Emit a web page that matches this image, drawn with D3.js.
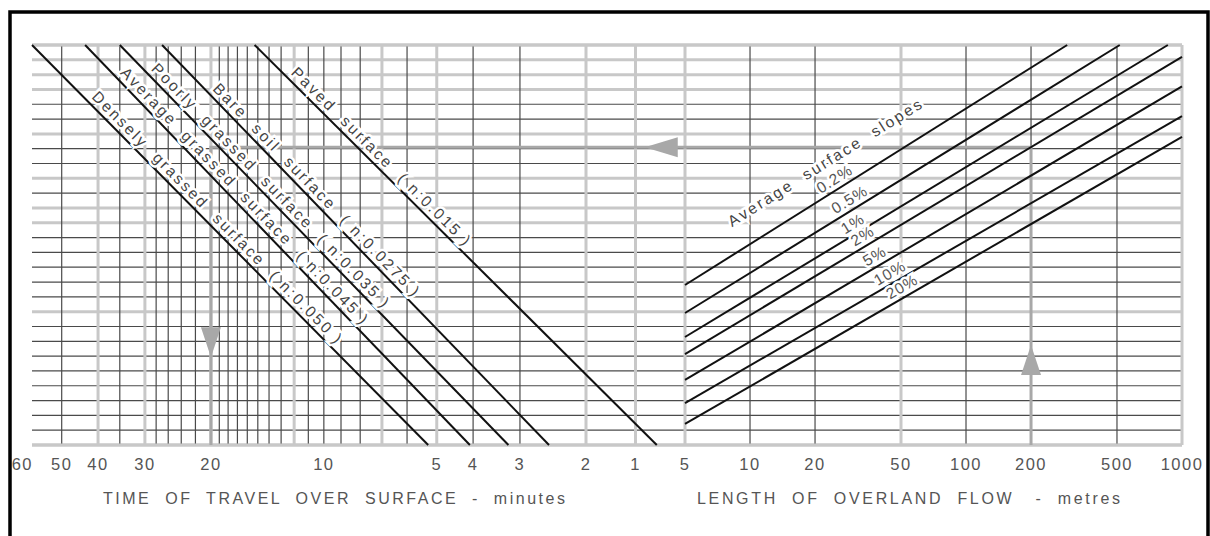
<!DOCTYPE html>
<html>
<head>
<meta charset="utf-8">
<script src="https://cdn.jsdelivr.net/npm/d3@7/dist/d3.min.js"></script>
<style>
  body { margin: 0; background: #fff; }
  svg { display: block; }
  text { font-family: "Liberation Sans", Arial, sans-serif; }
</style>
</head>
<body>
<script>
// time of travel axis (minutes)
const timeTicks = [60, 50, 40, 30, 20, 10, 5, 4, 3, 2, 1]
const timeGrid = [50, 40, 35, 30, 28, 26, 24, 22, 20, 19, 18, 17, 16, 15, 14, 13, 12, 11, 10, 9, 8, 7, 6, 5, 4, 3, 2, 1, 0]
const timeGridMajor = [40, 30, 20, 12, 7, 5, 2, 1, 0]

// length of overland flow axis (metres)
const lengthTicks = [5, 10, 20, 50, 100, 200, 500, 1000]
const lengthGrid = [10, 20, 50, 100, 200, 500, 1000]
const lengthGridMajor = [50, 1000]

// horizontal rulings of the unlabelled turning scale
const rows = d3.range(0, 28)
const rowsMajor = [0, 9, 15, 16, 18, 21, 24, 25, 26, 27]

// surface lines: time where each line leaves the top and meets the bottom
const surfaces = ['Densely  grassed  surface', 'Average  grassed  surface', 'Poorly  grassed  surface', 'Bare  soil  surface', 'Paved  surface']
const manningN = ['0.050', '0.045', '0.035', '0.0275', '0.015']
const surfaceTimeTop = [60, 43.3, 35, 27, 15.3]
const surfaceTimeBottom = [5.27, 4.08, 3.22, 2.51, 0.57]
const surfaceLabelAt = [0.14, 0.08, 0.07, 0.12, 0.08]

// slope lines: row at 5 m, and where each line ends
const slopes = ['0.2%', '0.5%', '1%', '2%', '5%', '10%', '20%']
const slopeRowStart = [10.8, 8.91, 7.29, 6.14, 4.39, 2.83, 1.42]
const slopeLengthEnd = [294, 515, 860, 1000, 1000, 1000, 1000]
const slopeRowEnd = [27, 27, 27, 26.2, 24.2, 22.2, 20.8]
const slopeLabelLength = [26.1, 30.6, 31.6, 35.1, 39.9, 46.9, 53.4]

// worked example: 200 m at 2 % on poorly grassed surface -> 20 min
const exampleLength = 200
const exampleSlope = '2%'
const exampleTime = 20

const width = 1210
const height = 536
const plotLeft = 32
const plotRight = 1182
const plotTop = 45
const plotBottom = 445
const split = 685

const svg = d3.select('body')
  .append('svg')
  .attr('width', width)
  .attr('height', height)

// log time scale down to 2 min, then a linear stretch to 0 at the split
const tLog = d3.scaleLog().domain([60, 2]).range([plotLeft, 586])
const tLin = d3.scaleLinear().domain([2, 0]).range([tLog(2), split])
const xTime = t => (t >= 2 ? tLog(t) : tLin(t))
const xLen = d3.scaleLog().domain([5, 1000]).range([split, plotRight])
const y = d3.scaleLinear().domain([0, 27]).range([plotBottom, plotTop])

const minor = '#4a4a4a'
const major = '#c8c8c8'

//
// grid
//
const grid = svg.append('g')

grid.selectAll('.hrow')
  .data(rows)
  .join('line')
  .attr('x1', plotLeft)
  .attr('x2', plotRight)
  .attr('y1', d => y(d))
  .attr('y2', d => y(d))
  .attr('stroke', d => (rowsMajor.includes(d) ? major : minor))
  .attr('stroke-width', d => (rowsMajor.includes(d) ? 3 : 1.2))

grid.selectAll('.tcol')
  .data(timeGrid)
  .join('line')
  .attr('x1', d => xTime(d))
  .attr('x2', d => xTime(d))
  .attr('y1', plotTop)
  .attr('y2', plotBottom)
  .attr('stroke', d => (timeGridMajor.includes(d) ? major : minor))
  .attr('stroke-width', d => (timeGridMajor.includes(d) ? 3 : 1.2))

grid.selectAll('.lcol')
  .data(lengthGrid)
  .join('line')
  .attr('x1', d => xLen(d))
  .attr('x2', d => xLen(d))
  .attr('y1', plotTop)
  .attr('y2', plotBottom)
  .attr('stroke', d => (lengthGridMajor.includes(d) ? major : minor))
  .attr('stroke-width', d => (lengthGridMajor.includes(d) ? 3 : 1.2))

// redraw top and bottom rulings over the columns
grid.selectAll('.edge')
  .data([0, 27])
  .join('line')
  .attr('x1', plotLeft)
  .attr('x2', plotRight)
  .attr('y1', d => y(d))
  .attr('y2', d => y(d))
  .attr('stroke', major)
  .attr('stroke-width', 3)

//
// worked example arrows
//
const slopeIdx = slopes.indexOf(exampleSlope)
const rowOnSlope = (i, L) =>
  slopeRowStart[i] + (slopeRowEnd[i] - slopeRowStart[i]) * Math.log(L / 5) / Math.log(slopeLengthEnd[i] / 5)
const exampleRow = rowOnSlope(slopeIdx, exampleLength)
const ax = xLen(exampleLength)
const ay = y(exampleRow)
const tx = xTime(exampleTime)
const arrowColour = '#a8a8a8'

svg.append('path')
  .attr('d', `M${ax},${y(0)}V${ay}H${tx}V${y(0)}`)
  .attr('fill', 'none')
  .attr('stroke', arrowColour)
  .attr('stroke-width', 3)

const upTip = y(0) + (ay - y(0)) * 0.336
const leftTip = ax + (tx - ax) * 0.471
const downTip = ay + (y(0) - ay) * 0.705
const heads = [
  `M${ax},${upTip}l-10,30h20z`,
  `M${leftTip},${ay}l33,-10v20z`,
  `M${tx},${downTip}l-10,-30h20z`
]
svg.selectAll('.head')
  .data(heads)
  .join('path')
  .attr('d', d => d)
  .attr('fill', arrowColour)

//
// surface lines and labels
//
const surfaceData = surfaces.map((name, i) => {
  const x0 = xTime(surfaceTimeTop[i])
  const x1 = xTime(surfaceTimeBottom[i])
  const y0 = y(27)
  const y1 = y(0)
  const f = surfaceLabelAt[i]
  return {
    name: `${name}  ( n:${manningN[i]} )`,
    x0, x1, y0, y1,
    lx: x0 + (x1 - x0) * f,
    ly: y0 + (y1 - y0) * f,
    angle: Math.atan2(y1 - y0, x1 - x0) * 180 / Math.PI
  }
})

svg.selectAll('.surf')
  .data(surfaceData)
  .join('line')
  .attr('x1', d => d.x0)
  .attr('y1', d => d.y0)
  .attr('x2', d => d.x1)
  .attr('y2', d => d.y1)
  .attr('stroke', '#111')
  .attr('stroke-width', 2)

svg.selectAll('.surfLabel')
  .data(surfaceData)
  .join('text')
  .attr('transform', d => `translate(${d.lx},${d.ly}) rotate(${d.angle})`)
  .attr('y', -5)
  .attr('font-size', 15.5)
  .attr('letter-spacing', 2.4)
  .attr('fill', '#444')
  .attr('stroke', '#fff')
  .attr('stroke-width', 5)
  .attr('paint-order', 'stroke')
  .style('white-space', 'pre')
  .text(d => d.name)

//
// slope lines and labels
//
const slopeData = slopes.map((name, i) => {
  const x0 = xLen(5)
  const y0 = y(slopeRowStart[i])
  const x1 = xLen(slopeLengthEnd[i])
  const y1 = y(slopeRowEnd[i])
  const L = slopeLabelLength[i]
  return {
    name, x0, y0, x1, y1,
    lx: xLen(L),
    ly: y(rowOnSlope(i, L)),
    angle: Math.atan2(y1 - y0, x1 - x0) * 180 / Math.PI
  }
})

svg.selectAll('.slope')
  .data(slopeData)
  .join('line')
  .attr('x1', d => d.x0)
  .attr('y1', d => d.y0)
  .attr('x2', d => d.x1)
  .attr('y2', d => d.y1)
  .attr('stroke', '#111')
  .attr('stroke-width', 2)

svg.selectAll('.slopeLabel')
  .data(slopeData)
  .join('text')
  .attr('transform', d => `translate(${d.lx},${d.ly}) rotate(${d.angle})`)
  .attr('y', -5)
  .attr('text-anchor', 'middle')
  .attr('font-size', 15.5)
  .attr('letter-spacing', 1)
  .attr('fill', '#555')
  .attr('stroke', '#fff')
  .attr('stroke-width', 5)
  .attr('paint-order', 'stroke')
  .text(d => d.name)

svg.append('text')
  .attr('transform', `translate(${xLen(8.26)},${y(14.7)}) rotate(${slopeData[0].angle})`)
  .attr('font-size', 15.5)
  .attr('letter-spacing', 2.4)
  .attr('fill', '#444')
  .attr('stroke', '#fff')
  .attr('stroke-width', 5)
  .attr('paint-order', 'stroke')
  .style('white-space', 'pre')
  .text('Average  surface  slopes')

//
// axis labels
//
svg.selectAll('.tTick')
  .data(timeTicks)
  .join('text')
  .attr('x', (d, i) => (i === 0 ? xTime(d) + 1 : xTime(d)))
  .attr('y', 470)
  .attr('text-anchor', (d, i) => (i === 0 ? 'end' : 'middle'))
  .attr('font-size', 16.5)
  .attr('letter-spacing', 1.5)
  .attr('fill', '#555')
  .text(d => d)

svg.selectAll('.lTick')
  .data(lengthTicks)
  .join('text')
  .attr('x', d => xLen(d))
  .attr('y', 470)
  .attr('text-anchor', 'middle')
  .attr('font-size', 16.5)
  .attr('letter-spacing', 1.5)
  .attr('fill', '#555')
  .text(d => d)

const titles = [
  { text: 'TIME  OF  TRAVEL  OVER  SURFACE  -  minutes', x: 103, w: 462 },
  { text: 'LENGTH  OF  OVERLAND  FLOW   -  metres', x: 697, w: 423 }
]
svg.selectAll('.title')
  .data(titles)
  .join('text')
  .attr('x', d => d.x)
  .attr('y', 504)
  .attr('font-size', 16)
  .attr('fill', '#555')
  .attr('textLength', d => d.w)
  .attr('lengthAdjust', 'spacing')
  .style('white-space', 'pre')
  .text(d => d.text)

// frame
svg.append('rect')
  .attr('x', 10)
  .attr('y', 12)
  .attr('width', 1198)
  .attr('height', 540)
  .attr('fill', 'none')
  .attr('stroke', '#000')
  .attr('stroke-width', 3.5)
</script>
</body>
</html>
